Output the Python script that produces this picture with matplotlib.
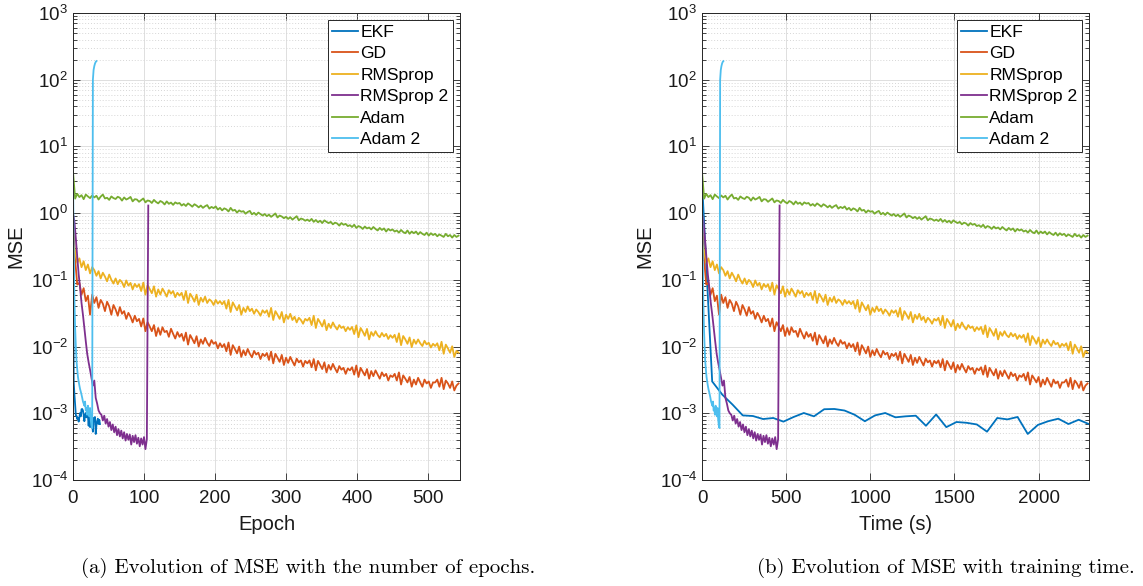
import numpy as np
import matplotlib.pyplot as plt
from matplotlib.ticker import LogLocator, NullFormatter

plt.rcParams['font.family'] = ['Liberation Sans', 'DejaVu Sans']
plt.rcParams['mathtext.fontset'] = 'custom'
plt.rcParams['mathtext.rm'] = 'Liberation Sans'
plt.rcParams['mathtext.it'] = 'Liberation Sans:italic'
plt.rcParams['mathtext.bf'] = 'Liberation Sans:bold'
plt.rcParams['axes.unicode_minus'] = False

# ---- data ----
labels = ['EKF', 'GD', 'RMSprop', 'RMSprop 2', 'Adam', 'Adam 2']
colors = ['#0072bd', '#d95319', '#edb120', '#7e2f8e', '#77ac30', '#4dbeee']

# seconds per epoch for each method (used for the time plot)
sec_per_epoch = [60.5, 4.22, 4.22, 4.35, 4.22, 3.85]

# EKF, one value per epoch (0..38)
ekf_epochs = np.arange(0, 39)
ekf_mse = [3.0, 0.003, 0.0019, 0.00135, 0.00093, 0.00091, 0.00082, 0.00085, 0.00075,
           0.00088, 0.00101, 0.0009, 0.00115, 0.00116, 0.0011, 0.00095, 0.00076,
           0.00093, 0.00101, 0.00087, 0.0009, 0.00092, 0.00065, 0.00096, 0.00062,
           0.00074, 0.00072, 0.00068, 0.00053, 0.00085, 0.00081, 0.00088, 0.00049,
           0.00067, 0.00076, 0.00083, 0.00069, 0.0008, 0.00069]

# GD / RMSprop / Adam, every 3 epochs (0..543)
long_epochs = np.arange(0, 544, 3)
gd_mse = [1.0, 0.2, 0.085, 0.09, 0.06, 0.075, 0.048, 0.058, 0.03, 0.06,
          0.045, 0.055, 0.038, 0.05, 0.044, 0.034, 0.047, 0.04, 0.03, 0.042,
          0.036, 0.029, 0.039, 0.031, 0.034, 0.026, 0.032, 0.028, 0.023, 0.029,
          0.024, 0.026, 0.02, 0.0264, 0.017, 0.0232, 0.02, 0.017, 0.021, 0.0144,
          0.019, 0.015, 0.0195, 0.0165, 0.0172, 0.014, 0.0185, 0.0155, 0.0132, 0.0165,
          0.014, 0.0155, 0.0122, 0.0162, 0.0107, 0.0149, 0.013, 0.0112, 0.0143, 0.01,
          0.0128, 0.011, 0.0135, 0.0114, 0.0102, 0.0125, 0.011, 0.0117, 0.0094, 0.0112,
          0.0098, 0.0109, 0.0085, 0.0115, 0.0075, 0.0105, 0.0092, 0.0079, 0.01, 0.007,
          0.0088, 0.0074, 0.0092, 0.0078, 0.0069, 0.0086, 0.0076, 0.0081, 0.0065, 0.0078,
          0.0072, 0.008, 0.0063, 0.0084, 0.0056, 0.0078, 0.0068, 0.0059, 0.0075, 0.0053,
          0.0068, 0.0057, 0.007, 0.006, 0.0052, 0.0066, 0.0058, 0.0062, 0.005, 0.0061,
          0.0056, 0.0062, 0.0049, 0.0065, 0.0044, 0.0061, 0.0053, 0.0046, 0.0058, 0.0041,
          0.0053, 0.0045, 0.0055, 0.0047, 0.0041, 0.0051, 0.0045, 0.0048, 0.0039, 0.0047,
          0.0044, 0.0049, 0.0038, 0.0052, 0.0035, 0.0048, 0.0042, 0.0037, 0.0046, 0.0033,
          0.0043, 0.0036, 0.0044, 0.0038, 0.0033, 0.0041, 0.0036, 0.0039, 0.0031, 0.0037,
          0.0035, 0.0039, 0.0031, 0.0041, 0.0027, 0.0037, 0.0033, 0.0029, 0.0035, 0.0025,
          0.0032, 0.0027, 0.0034, 0.0029, 0.0025, 0.0032, 0.0028, 0.003, 0.0024, 0.0029,
          0.0029, 0.0032, 0.0025, 0.0034, 0.0023, 0.0031, 0.0028, 0.0024, 0.003, 0.0022,
          0.0026, 0.0028]
rms_mse = [0.35, 0.26, 0.18, 0.21, 0.155, 0.19, 0.14, 0.17, 0.125, 0.155,
           0.14, 0.115, 0.135, 0.105, 0.128, 0.112, 0.095, 0.12, 0.1, 0.088,
           0.105, 0.086, 0.1, 0.092, 0.078, 0.098, 0.082, 0.09, 0.072, 0.087,
           0.078, 0.086, 0.068, 0.091, 0.06, 0.083, 0.073, 0.063, 0.08, 0.056,
           0.072, 0.06, 0.074, 0.065, 0.056, 0.07, 0.062, 0.068, 0.055, 0.064,
           0.058, 0.064, 0.05, 0.068, 0.045, 0.062, 0.055, 0.047, 0.06, 0.042,
           0.054, 0.047, 0.056, 0.045, 0.051, 0.048, 0.042, 0.05, 0.044, 0.048,
           0.043, 0.048, 0.037, 0.05, 0.033, 0.046, 0.04, 0.035, 0.042, 0.03,
           0.038, 0.033, 0.04, 0.034, 0.037, 0.031, 0.036, 0.033, 0.029, 0.035,
           0.032, 0.035, 0.028, 0.038, 0.025, 0.034, 0.03, 0.026, 0.033, 0.023,
           0.03, 0.026, 0.031, 0.025, 0.028, 0.023, 0.027, 0.025, 0.022, 0.026,
           0.0245, 0.027, 0.021, 0.029, 0.019, 0.026, 0.023, 0.02, 0.025, 0.0176,
           0.022, 0.019, 0.023, 0.02, 0.018, 0.021, 0.019, 0.02, 0.017, 0.0195,
           0.0178, 0.0197, 0.0154, 0.0208, 0.0138, 0.019, 0.0168, 0.0145, 0.0184, 0.0128,
           0.0165, 0.0145, 0.017, 0.0148, 0.0138, 0.016, 0.0142, 0.0155, 0.013, 0.0148,
           0.0135, 0.015, 0.0117, 0.0158, 0.0105, 0.0144, 0.0128, 0.011, 0.0137, 0.0098,
           0.0127, 0.011, 0.0128, 0.0112, 0.0102, 0.0122, 0.0108, 0.0114, 0.0097, 0.011,
           0.0102, 0.0112, 0.0088, 0.0118, 0.0078, 0.0107, 0.0094, 0.0081, 0.0101, 0.007,
           0.0086, 0.0081]
adam_mse = [4.2, 1.65, 1.95, 1.74, 1.86, 1.62, 1.9, 1.78, 1.68, 1.84,
            1.72, 1.82, 1.6, 1.77, 1.9, 1.66, 1.7, 1.58, 1.78, 1.68,
            1.63, 1.76, 1.7, 1.54, 1.72, 1.6, 1.66, 1.75, 1.5, 1.62,
            1.6, 1.48, 1.57, 1.66, 1.45, 1.55, 1.52, 1.42, 1.58, 1.47,
            1.4, 1.52, 1.46, 1.35, 1.5, 1.38, 1.44, 1.33, 1.45, 1.39,
            1.42, 1.3, 1.37, 1.28, 1.4, 1.33, 1.25, 1.36, 1.3, 1.22,
            1.3, 1.2, 1.27, 1.32, 1.17, 1.24, 1.19, 1.26, 1.13, 1.2,
            1.1, 1.18, 1.14, 1.06, 1.2, 1.09, 1.12, 1.02, 1.1, 1.05,
            1.07, 0.98, 1.04, 1.08, 0.96, 1.01, 0.94, 1.02, 0.97, 0.92,
            0.97, 0.9, 0.95, 0.88, 0.93, 0.99, 0.86, 0.92, 0.89, 0.84,
            0.88, 0.82, 0.87, 0.8, 0.85, 0.9, 0.78, 0.83, 0.81, 0.77,
            0.8, 0.76, 0.82, 0.74, 0.79, 0.73, 0.77, 0.71, 0.78, 0.74,
            0.71, 0.74, 0.68, 0.72, 0.7, 0.65, 0.71, 0.67, 0.69, 0.64,
            0.66, 0.62, 0.67, 0.6, 0.64, 0.62, 0.58, 0.63, 0.59, 0.61,
            0.57, 0.62, 0.58, 0.55, 0.6, 0.56, 0.59, 0.53, 0.58, 0.55,
            0.57, 0.53, 0.55, 0.51, 0.56, 0.52, 0.5, 0.55, 0.49, 0.53,
            0.5, 0.53, 0.48, 0.52, 0.49, 0.47, 0.51, 0.46, 0.5, 0.47,
            0.49, 0.45, 0.48, 0.46, 0.44, 0.49, 0.45, 0.47, 0.43, 0.47,
            0.44, 0.46]

# RMSprop 2, every 2 epochs (0..106), diverges at the end
rms2_epochs = np.arange(0, 107, 2)
rms2_mse = [1.0, 0.75, 0.42, 0.22, 0.12, 0.076, 0.045, 0.03, 0.019, 0.012,
            0.0078, 0.0058, 0.0045, 0.0034, 0.0026, 0.0031, 0.0017, 0.0014, 0.0011, 0.001,
            0.00095, 0.00078, 0.00092, 0.0007, 0.00082, 0.00063, 0.00074, 0.00056, 0.00068, 0.00052,
            0.00063, 0.00047, 0.00058, 0.00045, 0.00055, 0.00042, 0.00052, 0.00039, 0.00049, 0.0004,
            0.00048, 0.00034, 0.00046, 0.00037, 0.00047, 0.00035, 0.00043, 0.00032, 0.00042, 0.00034,
            0.00044, 0.00029, 0.00041, 1.3]

# Adam 2, one value per epoch (0..33), diverges at the end
adam2_epochs = np.arange(0, 34)
adam2_mse = [3.5, 0.3, 0.05, 0.019, 0.01, 0.006, 0.0045, 0.0035, 0.003, 0.0026,
             0.0023, 0.0021, 0.0019, 0.0017, 0.0015, 0.0014, 0.0013, 0.0015, 0.0011, 0.0012,
             0.00095, 0.0013, 0.0011, 0.0009, 0.0012, 0.0008, 0.00065, 0.0006, 100, 140,
             160, 175, 185, 190]

series = [(ekf_epochs, ekf_mse), (long_epochs, gd_mse), (long_epochs, rms_mse),
          (rms2_epochs, rms2_mse), (long_epochs, adam_mse), (adam2_epochs, adam2_mse)]

fig = plt.figure(figsize=(11.43, 5.86), dpi=100)
ax1 = fig.add_axes([73 / 1143, 1 - 480 / 586, 387 / 1143, 467 / 586])
ax2 = fig.add_axes([702 / 1143, 1 - 480 / 586, 387 / 1143, 467 / 586])

ink = '#262626'


def style(ax, xmax, xticks, xlabel):
    ax.set_yscale('log')
    ax.set_ylim(1e-4, 1e3)
    ax.set_xlim(0, xmax)
    ax.set_xticks(xticks)
    ax.yaxis.set_major_locator(LogLocator(base=10, numticks=20))
    ax.yaxis.set_minor_locator(LogLocator(base=10, subs=np.arange(2, 10), numticks=100))
    ax.yaxis.set_minor_formatter(NullFormatter())
    ax.tick_params(which='both', direction='in', top=True, right=True, color=ink,
                   labelsize=13.5, labelcolor='#1a1a1a')
    ax.tick_params(which='major', length=5, width=0.6)
    ax.tick_params(which='minor', length=3, width=0.6)
    ax.tick_params(axis='x', pad=7)
    ax.grid(True, which='major', color='#dedede', lw=0.7)
    ax.yaxis.grid(True, which='minor', color='#d6d6d6', ls=(0, (1, 2)), lw=0.7)
    ax.set_axisbelow(True)
    for s in ax.spines.values():
        s.set_color(ink)
        s.set_linewidth(0.7)
    ax.set_xlabel(xlabel, fontsize=14.5, color='#1a1a1a', labelpad=6)
    ax.set_ylabel('MSE', fontsize=14.5, color='#1a1a1a')


for (x, y), lab, c in zip(series, labels, colors):
    ax1.plot(x, y, color=c, lw=1.3, label=lab)
for (x, y), lab, c, spe in zip(series, labels, colors, sec_per_epoch):
    ax2.plot(np.asarray(x) * spe, y, color=c, lw=1.3, label=lab)

style(ax1, 545, [0, 100, 200, 300, 400, 500], 'Epoch')
style(ax2, 2300, [0, 500, 1000, 1500, 2000], 'Time (s)')

for ax in (ax1, ax2):
    leg = ax.legend(loc='upper right', fontsize=12.6, frameon=True, fancybox=False,
                    edgecolor=ink, framealpha=1, borderpad=0.25, labelspacing=0.36,
                    handlelength=1.45, handletextpad=0.15, borderaxespad=0.4)
    leg.get_frame().set_linewidth(0.7)

fig.text(308 / 1143, 1 - 568 / 586, '(a) Evolution of MSE with the number of epochs.',
         ha='center', va='center', fontfamily='cmr10', fontsize=15)
fig.text(946 / 1143, 1 - 568 / 586, '(b) Evolution of MSE with training time.',
         ha='center', va='center', fontfamily='cmr10', fontsize=15)

fig.savefig('out.png', dpi=100)
